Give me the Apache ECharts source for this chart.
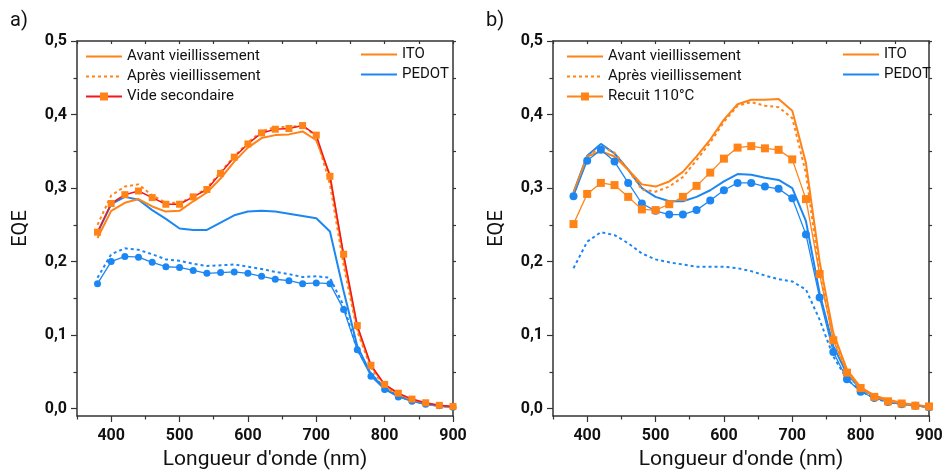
<!DOCTYPE html>
<html>
<head>
<meta charset="utf-8">
<script src="https://cdn.jsdelivr.net/npm/echarts@6/dist/echarts.min.js"></script>
<style>html,body{margin:0;padding:0;background:#fff}#c{width:944px;height:470px}</style>
</head>
<body>
<div id="c"></div>
<script>
// ---- data ----
const wavelengths = [380,400,420,440,460,480,500,520,540,560,580,600,620,640,660,680,700,720,740,760,780,800,820,840,860,880,900];
const xMajorTicks = [400,500,600,700,800,900];
const xMinorTicks = [350,450,550,650,750,850];
const yMajorTicks = [0,0.1,0.2,0.3,0.4,0.5];
const yMinorTicks = [0.05,0.15,0.25,0.35,0.45];
const yAllTicks = [0,0.05,0.1,0.15,0.2,0.25,0.3,0.35,0.4,0.45,0.5];
const panelLabels = ['a)','b)'];
const legendMain = [['Avant vieillissement','Après vieillissement','Vide secondaire'],['Avant vieillissement','Après vieillissement','Recuit 110°C']];
const legendMaterial = ['ITO','PEDOT'];

// panel a
const aItoAvant   = [0.232,0.269,0.280,0.285,0.275,0.268,0.269,0.282,0.294,0.313,0.336,0.355,0.368,0.372,0.373,0.377,0.365,0.318,0.205,0.110,0.058,0.032,0.020,0.012,0.007,0.004,0.002];
const aItoApres   = [0.250,0.290,0.302,0.305,0.290,0.280,0.280,0.288,0.300,0.322,0.343,0.362,0.377,0.383,0.383,0.385,0.370,0.305,0.195,0.105,0.055,0.030,0.018,0.011,0.006,0.004,0.002];
const aItoVide    = [0.240,0.279,0.291,0.296,0.287,0.278,0.278,0.288,0.298,0.320,0.342,0.360,0.375,0.380,0.381,0.385,0.372,0.316,0.210,0.113,0.059,0.033,0.021,0.013,0.008,0.0045,0.003];
const aPedotAvant = [0.239,0.278,0.288,0.284,0.270,0.258,0.245,0.243,0.243,0.253,0.263,0.268,0.269,0.268,0.265,0.262,0.259,0.241,0.160,0.085,0.047,0.027,0.017,0.011,0.006,0.004,0.002];
const aPedotApres = [0.178,0.210,0.218,0.216,0.210,0.203,0.201,0.197,0.194,0.195,0.196,0.193,0.190,0.186,0.183,0.179,0.180,0.178,0.140,0.080,0.048,0.028,0.017,0.011,0.006,0.004,0.002];
const aPedotVide  = [0.170,0.200,0.207,0.206,0.199,0.193,0.192,0.188,0.184,0.185,0.186,0.184,0.180,0.176,0.174,0.170,0.171,0.170,0.135,0.080,0.044,0.026,0.016,0.010,0.006,0.004,0.002];
// panel b
const bItoAvant    = [0.293,0.343,0.350,0.343,0.325,0.305,0.302,0.309,0.322,0.343,0.366,0.393,0.414,0.420,0.420,0.421,0.405,0.334,0.200,0.103,0.053,0.029,0.018,0.012,0.008,0.0045,0.003];
const bItoApres    = [0.290,0.342,0.357,0.348,0.325,0.298,0.295,0.302,0.315,0.338,0.362,0.390,0.412,0.417,0.412,0.410,0.395,0.320,0.185,0.095,0.050,0.027,0.017,0.011,0.007,0.004,0.002];
const bItoRecuit   = [0.251,0.292,0.307,0.304,0.288,0.271,0.270,0.278,0.288,0.303,0.321,0.340,0.355,0.357,0.354,0.352,0.339,0.285,0.183,0.093,0.049,0.028,0.016,0.010,0.007,0.004,0.003];
const bPedotAvant  = [0.294,0.344,0.360,0.347,0.325,0.300,0.288,0.282,0.282,0.288,0.297,0.309,0.319,0.318,0.314,0.311,0.300,0.255,0.157,0.085,0.047,0.027,0.017,0.011,0.007,0.0045,0.003];
const bPedotApres  = [0.191,0.227,0.240,0.236,0.225,0.211,0.203,0.199,0.196,0.193,0.193,0.193,0.191,0.187,0.181,0.176,0.173,0.162,0.121,0.071,0.040,0.024,0.014,0.009,0.006,0.004,0.002];
const bPedotRecuit = [0.289,0.337,0.352,0.336,0.307,0.279,0.269,0.264,0.264,0.270,0.283,0.297,0.307,0.307,0.302,0.299,0.286,0.237,0.151,0.077,0.040,0.023,0.0145,0.009,0.006,0.004,0.002];

// ---- styles ----
const ORANGE = '#FF8316';
const BLUE = '#1C87F2';
const RED = '#F2171E';
const AXIS = '#333333';
const FONT = 'Roboto, "Noto Sans", sans-serif';
const CLEAR = 'rgba(0,0,0,0)';

const grids = [
  {left: 77, top: 41, width: 376, height: 375, outerBoundsMode: 'none', containLabel: false},
  {left: 553, top: 41, width: 376, height: 375, outerBoundsMode: 'none', containLabel: false}
];

const pair = arr => wavelengths.map((w, i) => [w, arr[i]]);
const fmtY = v => v.toFixed(1).replace('.', ',');

const xAxes = [], yAxes = [];
grids.forEach((g, gi) => {
  const lineStyle = {color: AXIS, width: 1.5};
  xAxes.push({
    type: 'value', gridIndex: gi, position: 'bottom', min: 350, max: 900,
    axisLine: {show: true, onZero: false, lineStyle},
    axisTick: {show: true, customValues: xMajorTicks, length: 6, lineStyle: {color: AXIS, width: 1.2}},
    axisLabel: {customValues: xMajorTicks, margin: 12, color: '#111', fontSize: 16, fontWeight: 'bold', fontFamily: FONT},
    splitLine: {show: false},
    name: 'Longueur d\'onde (nm)', nameLocation: 'middle', nameGap: 32,
    nameTextStyle: {fontSize: 21, color: '#111', fontFamily: FONT}
  });
  xAxes.push({
    type: 'value', gridIndex: gi, position: 'bottom', min: 350, max: 900,
    axisLine: {show: false, onZero: false},
    axisTick: {show: true, customValues: xMinorTicks, length: 3.5, lineStyle: {color: AXIS, width: 1.2}},
    axisLabel: {show: false}, splitLine: {show: false}
  });
  xAxes.push({
    type: 'value', gridIndex: gi, position: 'top', min: 350, max: 900,
    axisLine: {show: true, onZero: false, lineStyle},
    axisTick: {show: true, inside: true, customValues: xMajorTicks.concat(xMinorTicks), length: 3, lineStyle: {color: AXIS, width: 1.2}},
    axisLabel: {show: false}, splitLine: {show: false}
  });
  yAxes.push({
    type: 'value', gridIndex: gi, position: 'left', min: -0.01, max: 0.5,
    axisLine: {show: true, onZero: false, lineStyle},
    axisTick: {show: true, customValues: yMajorTicks, length: 6, lineStyle: {color: AXIS, width: 1.2}},
    axisLabel: {customValues: yMajorTicks, formatter: fmtY, margin: 10, color: '#111', fontSize: 16, fontWeight: 'bold', fontFamily: FONT},
    splitLine: {show: false},
    name: 'EQE', nameLocation: 'middle', nameRotate: 90, nameGap: 46,
    nameTextStyle: {fontSize: 20, color: '#111', fontFamily: FONT}
  });
  yAxes.push({
    type: 'value', gridIndex: gi, position: 'left', min: -0.01, max: 0.5,
    axisLine: {show: false, onZero: false},
    axisTick: {show: true, customValues: yMinorTicks, length: 3.5, lineStyle: {color: AXIS, width: 1.2}},
    axisLabel: {show: false}, splitLine: {show: false}
  });
  yAxes.push({
    type: 'value', gridIndex: gi, position: 'right', min: -0.01, max: 0.5,
    axisLine: {show: true, onZero: false, lineStyle},
    axisTick: {show: true, customValues: yAllTicks, length: 3, lineStyle: {color: AXIS, width: 1.2}},
    axisLabel: {show: false}, splitLine: {show: false}
  });
});

function line(name, gi, data, color, opts) {
  opts = opts || {};
  const hasSymbol = !!opts.symbol;
  return {
    type: 'line', name: name, xAxisIndex: gi * 3, yAxisIndex: gi * 3,
    data: pair(data), smooth: false, animation: false,
    symbol: opts.symbol || 'circle', symbolSize: opts.symbolSize || 7,
    showSymbol: hasSymbol,
    itemStyle: {color: hasSymbol ? (opts.markerColor || color) : CLEAR},
    lineStyle: {color: color, width: opts.width || 2, type: opts.type || 'solid'},
    emphasis: {disabled: true},
    z: opts.z || 2
  };
}
const DOT = [3, 3];

const series = [
  // panel a
  line('PEDOT avant (a)', 0, aPedotAvant, BLUE, {width: 2}),
  line('PEDOT après (a)', 0, aPedotApres, BLUE, {width: 2, type: DOT}),
  line('PEDOT vide (a)', 0, aPedotVide, BLUE, {width: 1.3, symbol: 'circle', symbolSize: 7, z: 3}),
  line('Avant vieillissement', 0, aItoAvant, ORANGE, {width: 2}),
  line('Après vieillissement', 0, aItoApres, ORANGE, {width: 2, type: DOT}),
  line('Vide secondaire', 0, aItoVide, RED, {width: 1.5, symbol: 'rect', symbolSize: 7, markerColor: ORANGE, z: 4}),
  // panel b
  line('PEDOT avant (b)', 1, bPedotAvant, BLUE, {width: 2}),
  line('PEDOT après (b)', 1, bPedotApres, BLUE, {width: 2, type: DOT}),
  line('PEDOT recuit (b)', 1, bPedotRecuit, BLUE, {width: 1.3, symbol: 'circle', symbolSize: 8, z: 3}),
  line('ITO avant (b)', 1, bItoAvant, ORANGE, {width: 2}),
  line('ITO après (b)', 1, bItoApres, ORANGE, {width: 2, type: DOT}),
  line('Recuit 110°C', 1, bItoRecuit, ORANGE, {width: 1.3, symbol: 'rect', symbolSize: 8, z: 4}),
  // legend-only entries
  line('ITO', 0, [], ORANGE, {width: 2}),
  line('PEDOT', 0, [], BLUE, {width: 2})
];
series[12].data = []; series[13].data = [];

const legendBase = {
  orient: 'vertical', itemWidth: 36, itemHeight: 10, itemGap: 5, padding: 0,
  selectedMode: false,
  textStyle: {fontSize: 15, lineHeight: 15, color: '#111', fontFamily: FONT}
};
const legends = [
  Object.assign({}, legendBase, {left: 85, top: 49, data: legendMain[0]}),
  Object.assign({}, legendBase, {left: 360, top: 47, itemGap: 5, data: legendMaterial}),
  Object.assign({}, legendBase, {left: 566, top: 49, data: legendMain[1]}),
  Object.assign({}, legendBase, {left: 842, top: 47, itemGap: 5, data: legendMaterial})
];

const chart = echarts.init(document.getElementById('c'), null, {renderer: 'canvas'});
chart.setOption({
  backgroundColor: '#fff',
  animation: false,
  grid: grids,
  xAxis: xAxes,
  yAxis: yAxes,
  legend: legends,
  series: series,
  graphic: [
    {type: 'text', left: 10, top: 11, style: {text: panelLabels[0], font: '20px ' + FONT, fill: '#111'}},
    {type: 'text', left: 486, top: 11, style: {text: panelLabels[1], font: '20px ' + FONT, fill: '#111'}}
  ]
});
</script>
</body>
</html>
